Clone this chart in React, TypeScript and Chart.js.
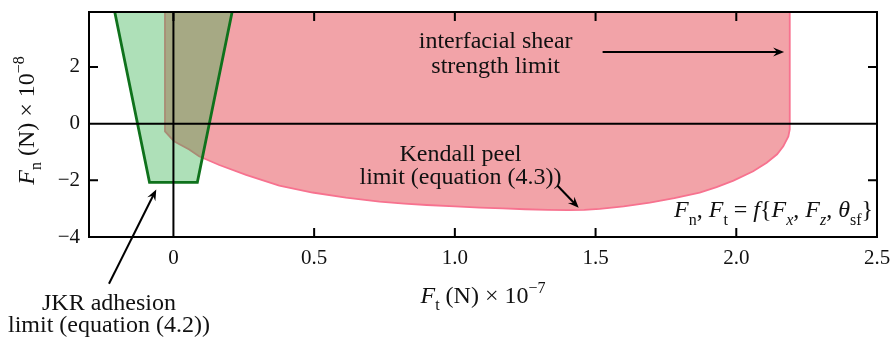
import React, { useEffect, useRef } from 'react';
import { Chart, registerables } from 'chart.js';

Chart.register(...registerables);

// Axis ranges (Ft in 1e-7 N, Fn in 1e-8 N)
const X_MIN = -0.3;
const X_MAX = 2.5;
const Y_MIN = -4;
const Y_MAX = 3.94;
const X_STEP = 0.5;
const Y_STEP = 2;

// JKR adhesion limit (trapezoid, open at the top)
const jkrFt = [-0.22, -0.085, 0.085, 0.22];
const jkrFn = [4.5, -2.07, -2.07, 4.5];

// Interfacial shear strength + Kendall peel limit envelope
const envFt = [-0.03, -0.03, 0.002, 0.056, 0.091, 0.163, 0.258, 0.376, 0.494, 0.613, 0.732, 0.82, 0.9, 1.0, 1.088, 1.17, 1.25, 1.33, 1.4, 1.46, 1.515, 1.6, 1.693, 1.78, 1.87, 1.93, 1.99, 2.06, 2.108, 2.145, 2.167, 2.185, 2.19, 2.19];
const envFn = [4.5, -0.27, -0.62, -0.91, -1.15, -1.46, -1.81, -2.19, -2.43, -2.61, -2.75, -2.82, -2.87, -2.92, -2.96, -2.99, -3.02, -3.04, -3.05, -3.04, -3.01, -2.92, -2.79, -2.63, -2.43, -2.24, -2.01, -1.68, -1.38, -1.08, -0.8, -0.45, -0.2, 4.5];

const FONT = '"Liberation Serif", "Times New Roman", serif';
const TEXT_SIZE = 24;
const TICK_SIZE = 21;

type Seg = { t: string; it?: boolean; sub?: boolean; sup?: boolean };

function drawRich(ctx: CanvasRenderingContext2D, segs: Seg[], x: number, y: number, size: number, align: 'left' | 'center' | 'right') {
  const small = Math.round(size * 0.68);
  const fontOf = (s: Seg) => `${s.it ? 'italic ' : ''}${s.sub || s.sup ? small : size}px ${FONT}`;
  const widths = segs.map((s) => {
    ctx.font = fontOf(s);
    return ctx.measureText(s.t).width;
  });
  const total = widths.reduce((a, b) => a + b, 0);
  let cx = align === 'left' ? x : align === 'center' ? x - total / 2 : x - total;
  ctx.textAlign = 'left';
  ctx.textBaseline = 'alphabetic';
  segs.forEach((s, i) => {
    ctx.font = fontOf(s);
    const dy = s.sub ? size * 0.3 : s.sup ? -size * 0.42 : 0;
    ctx.fillText(s.t, cx, y + dy);
    cx += widths[i];
  });
}

function arrow(ctx: CanvasRenderingContext2D, x1: number, y1: number, x2: number, y2: number) {
  const ang = Math.atan2(y2 - y1, x2 - x1);
  const len = 11;
  const half = 4.5;
  ctx.beginPath();
  ctx.moveTo(x1, y1);
  ctx.lineTo(x2 - Math.cos(ang) * len * 0.6, y2 - Math.sin(ang) * len * 0.6);
  ctx.stroke();
  const bx = x2 - Math.cos(ang) * len;
  const by = y2 - Math.sin(ang) * len;
  const nx = -Math.sin(ang);
  const ny = Math.cos(ang);
  ctx.beginPath();
  ctx.moveTo(x2, y2);
  ctx.lineTo(bx + nx * half, by + ny * half);
  ctx.lineTo(x2 - Math.cos(ang) * len * 0.65, y2 - Math.sin(ang) * len * 0.65);
  ctx.lineTo(bx - nx * half, by - ny * half);
  ctx.closePath();
  ctx.fill();
}

const decor = {
  id: 'decor',
  afterDatasetsDraw(chart: any) {
    const { ctx, chartArea: a, scales } = chart;
    const xs = scales.x;
    const ys = scales.y;
    const px = (v: number) => xs.getPixelForValue(v);
    const py = (v: number) => ys.getPixelForValue(v);
    const tl = 9;
    ctx.save();
    ctx.strokeStyle = '#000';
    ctx.fillStyle = '#000';
    ctx.lineWidth = 2;
    ctx.lineCap = 'butt';
    // zero lines
    const x0 = px(0);
    const y0 = py(0);
    ctx.beginPath();
    ctx.moveTo(a.left + tl, y0);
    ctx.lineTo(a.right - tl, y0);
    ctx.moveTo(x0, a.top);
    ctx.lineTo(x0, a.bottom - tl);
    ctx.stroke();
    // frame
    ctx.strokeRect(a.left, a.top, a.right - a.left, a.bottom - a.top);
    // inward ticks on all sides
    ctx.beginPath();
    xs.ticks.forEach((t: any) => {
      const p = px(t.value);
      ctx.moveTo(p, a.bottom);
      ctx.lineTo(p, a.bottom - tl);
      ctx.moveTo(p, a.top);
      ctx.lineTo(p, a.top + tl);
    });
    ys.ticks.forEach((t: any) => {
      const p = py(t.value);
      ctx.moveTo(a.left, p);
      ctx.lineTo(a.left + tl, p);
      ctx.moveTo(a.right, p);
      ctx.lineTo(a.right - tl, p);
    });
    ctx.stroke();

    // annotations
    ctx.fillStyle = '#111';
    drawRich(ctx, [{ t: 'interfacial shear' }], px(1.145), py(2.66), TEXT_SIZE, 'center');
    drawRich(ctx, [{ t: 'strength limit' }], px(1.145), py(1.78), TEXT_SIZE, 'center');
    drawRich(ctx, [{ t: 'Kendall peel' }], px(1.02), py(-1.32), TEXT_SIZE, 'center');
    drawRich(ctx, [{ t: 'limit (equation (4.3))' }], px(1.02), py(-2.14), TEXT_SIZE, 'center');
    drawRich(ctx, [{ t: 'JKR adhesion' }], px(-0.229), py(-6.59), TEXT_SIZE, 'center');
    drawRich(ctx, [{ t: 'limit (equation (4.2))' }], px(-0.229), py(-7.34), TEXT_SIZE, 'center');
    drawRich(
      ctx,
      [
        { t: 'F', it: true }, { t: 'n', sub: true }, { t: ', ' },
        { t: 'F', it: true }, { t: 't', sub: true }, { t: ' = ' },
        { t: 'f', it: true }, { t: '{' },
        { t: 'F', it: true }, { t: 'x', sub: true, it: true }, { t: ', ' },
        { t: 'F', it: true }, { t: 'z', sub: true, it: true }, { t: ', ' },
        { t: 'θ', it: true }, { t: 'sf', sub: true }, { t: '}' },
      ],
      px(2.486), py(-3.31), TEXT_SIZE, 'right'
    );
    ctx.fillStyle = '#000';
    ctx.lineWidth = 2;
    arrow(ctx, px(1.525), py(2.53), px(2.17), py(2.53));
    arrow(ctx, px(1.365), py(-2.19), px(1.44), py(-2.97));
    arrow(ctx, px(-0.229), py(-5.65), px(-0.061), py(-2.32));

    // axis titles
    ctx.fillStyle = '#111';
    drawRich(
      ctx,
      [{ t: 'F', it: true }, { t: 't', sub: true }, { t: ' (N) × 10' }, { t: '−7', sup: true }],
      (a.left + a.right) / 2, 303, TEXT_SIZE, 'center'
    );
    ctx.save();
    ctx.translate(34, (a.top + a.bottom) / 2 - 4);
    ctx.rotate(-Math.PI / 2);
    drawRich(ctx, [{ t: 'F', it: true }, { t: 'n', sub: true }, { t: ' (N) × 10' }, { t: '−8', sup: true }], 0, 0, TEXT_SIZE, 'center');
    ctx.restore();
    ctx.restore();
  },
};

const zeroPad = (s: any) => {
  s.paddingTop = 0;
  s.paddingBottom = 0;
  s.paddingLeft = 0;
  s.paddingRight = 0;
};

export default function App() {
  const ref = useRef<HTMLCanvasElement | null>(null);
  useEffect(() => {
    if (!ref.current) return;
    const toPts = (xs: number[], ys: number[]) => xs.map((x, i) => ({ x, y: ys[i] }));
    const chart = new Chart(ref.current, {
      type: 'scatter',
      data: {
        datasets: [
          {
            label: 'JKR adhesion limit',
            data: toPts(jkrFt, jkrFn),
            showLine: true,
            fill: 'shape',
            backgroundColor: 'rgba(52,177,77,0.4)',
            borderColor: '#0f721c',
            borderWidth: 2.8,
            pointRadius: 0,
            tension: 0,
          },
          {
            label: 'Shear / Kendall limit',
            data: toPts(envFt, envFn),
            showLine: true,
            fill: 'shape',
            backgroundColor: '#f2a3a8',
            borderColor: '#f7728f',
            borderWidth: 1.8,
            pointRadius: 0,
            tension: 0,
          },
        ],
      },
      options: {
        animation: false,
        responsive: false,
        devicePixelRatio: 1,
        layout: { padding: { top: 12, right: 16, left: 0, bottom: 0 } },
        plugins: { legend: { display: false }, tooltip: { enabled: false } },
        scales: {
          x: {
            type: 'linear',
            min: X_MIN,
            max: X_MAX,
            grid: { display: false, drawTicks: false },
            border: { display: false },
            afterFit: (s: any) => { s.height = 101; zeroPad(s); },
            ticks: {
              stepSize: X_STEP,
              includeBounds: false,
              padding: 9,
              color: '#111',
              font: { family: FONT, size: TICK_SIZE },
              callback: (v: any) => (Number(v) === 0 ? '0' : Number(v).toFixed(1)),
            },
          },
          y: {
            type: 'linear',
            min: Y_MIN,
            max: Y_MAX,
            grid: { display: false, drawTicks: false },
            border: { display: false },
            afterFit: (s: any) => { s.width = 89; zeroPad(s); },
            ticks: {
              stepSize: Y_STEP,
              includeBounds: false,
              padding: 9,
              color: '#111',
              font: { family: FONT, size: TICK_SIZE },
              callback: (v: any) => (Number(v) < 0 ? '−' + Math.abs(Number(v)) : String(v)),
            },
          },
        },
      },
      plugins: [decor],
    } as any);
    return () => chart.destroy();
  }, []);
  return (
    <div style={{ position: 'fixed', left: 0, top: 0, width: 893, height: 338, background: '#fff' }}>
      <canvas ref={ref} width={893} height={338} />
    </div>
  );
}
